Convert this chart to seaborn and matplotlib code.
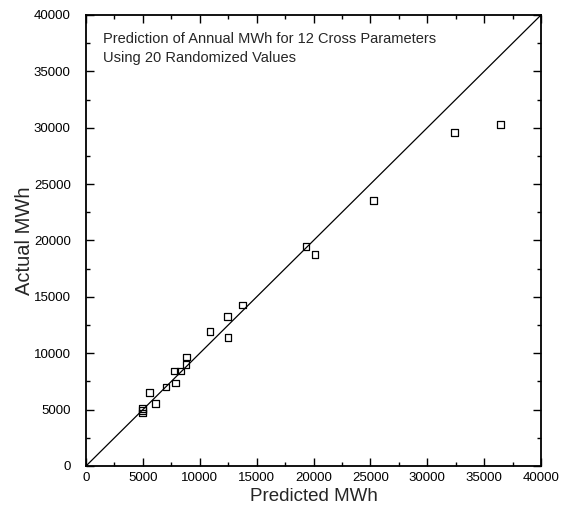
import matplotlib
matplotlib.use("Agg")
import matplotlib.pyplot as plt
from matplotlib.ticker import MultipleLocator
import seaborn as sns
import pandas as pd

predicted = [4950, 4950, 4985, 5600, 6130, 7030, 7800, 7890, 8330, 8770,
             8820, 10880, 12460, 12480, 13780, 19340, 20130, 25260, 32380, 36460]
actual = [5080, 4900, 4700, 6500, 5530, 7010, 8430, 7360, 8430, 8980,
          9670, 11950, 13240, 11380, 14280, 19450, 18740, 23530, 29600, 30270]
line_x = [0, 40000]
line_y = [0, 40000]

title_lines = ["Prediction of Annual MWh for 12 Cross Parameters",
               "Using 20 Randomized Values"]

sns.set_style("ticks")
plt.rcParams['font.family'] = ['Liberation Sans', 'DejaVu Sans']

fig = plt.figure(figsize=(5.65, 5.13), dpi=100)
ax = fig.add_axes([86/565, 47/513, 455/565, 451/513])

df = pd.DataFrame({"Predicted": predicted, "Actual": actual})
dl = pd.DataFrame({"x": line_x, "y": line_y})

sns.lineplot(data=dl, x="x", y="y", ax=ax, color="black", linewidth=0.9)
sns.scatterplot(data=df, x="Predicted", y="Actual", ax=ax, marker="s", s=22,
                facecolor="none", edgecolor="black", linewidth=0.9, zorder=3)

ax.set_xlim(0, 40000)
ax.set_ylim(0, 40000)
ax.xaxis.set_major_locator(MultipleLocator(5000))
ax.xaxis.set_minor_locator(MultipleLocator(2500))
ax.yaxis.set_major_locator(MultipleLocator(5000))
ax.yaxis.set_minor_locator(MultipleLocator(2500))
ax.tick_params(which="both", direction="in", top=True, right=True,
               colors="black", labelsize=9.5)
ax.tick_params(which="major", length=6, width=1.0)
ax.tick_params(which="minor", length=3, width=1.0)
ax.tick_params(axis="y", which="major", pad=11)
ax.tick_params(axis="x", which="major", pad=4)
for sp in ax.spines.values():
    sp.set_visible(True)
    sp.set_linewidth(1.3)
    sp.set_color("black")

ax.set_xlabel("Predicted MWh", fontsize=13.5, labelpad=3)
ax.set_ylabel("Actual MWh", fontsize=14.5, labelpad=0)

ax.text(0.038, 0.962, "\n".join(title_lines), transform=ax.transAxes,
        fontsize=10.5, va="top", ha="left", linespacing=1.45)

fig.savefig("out.png", dpi=100)
